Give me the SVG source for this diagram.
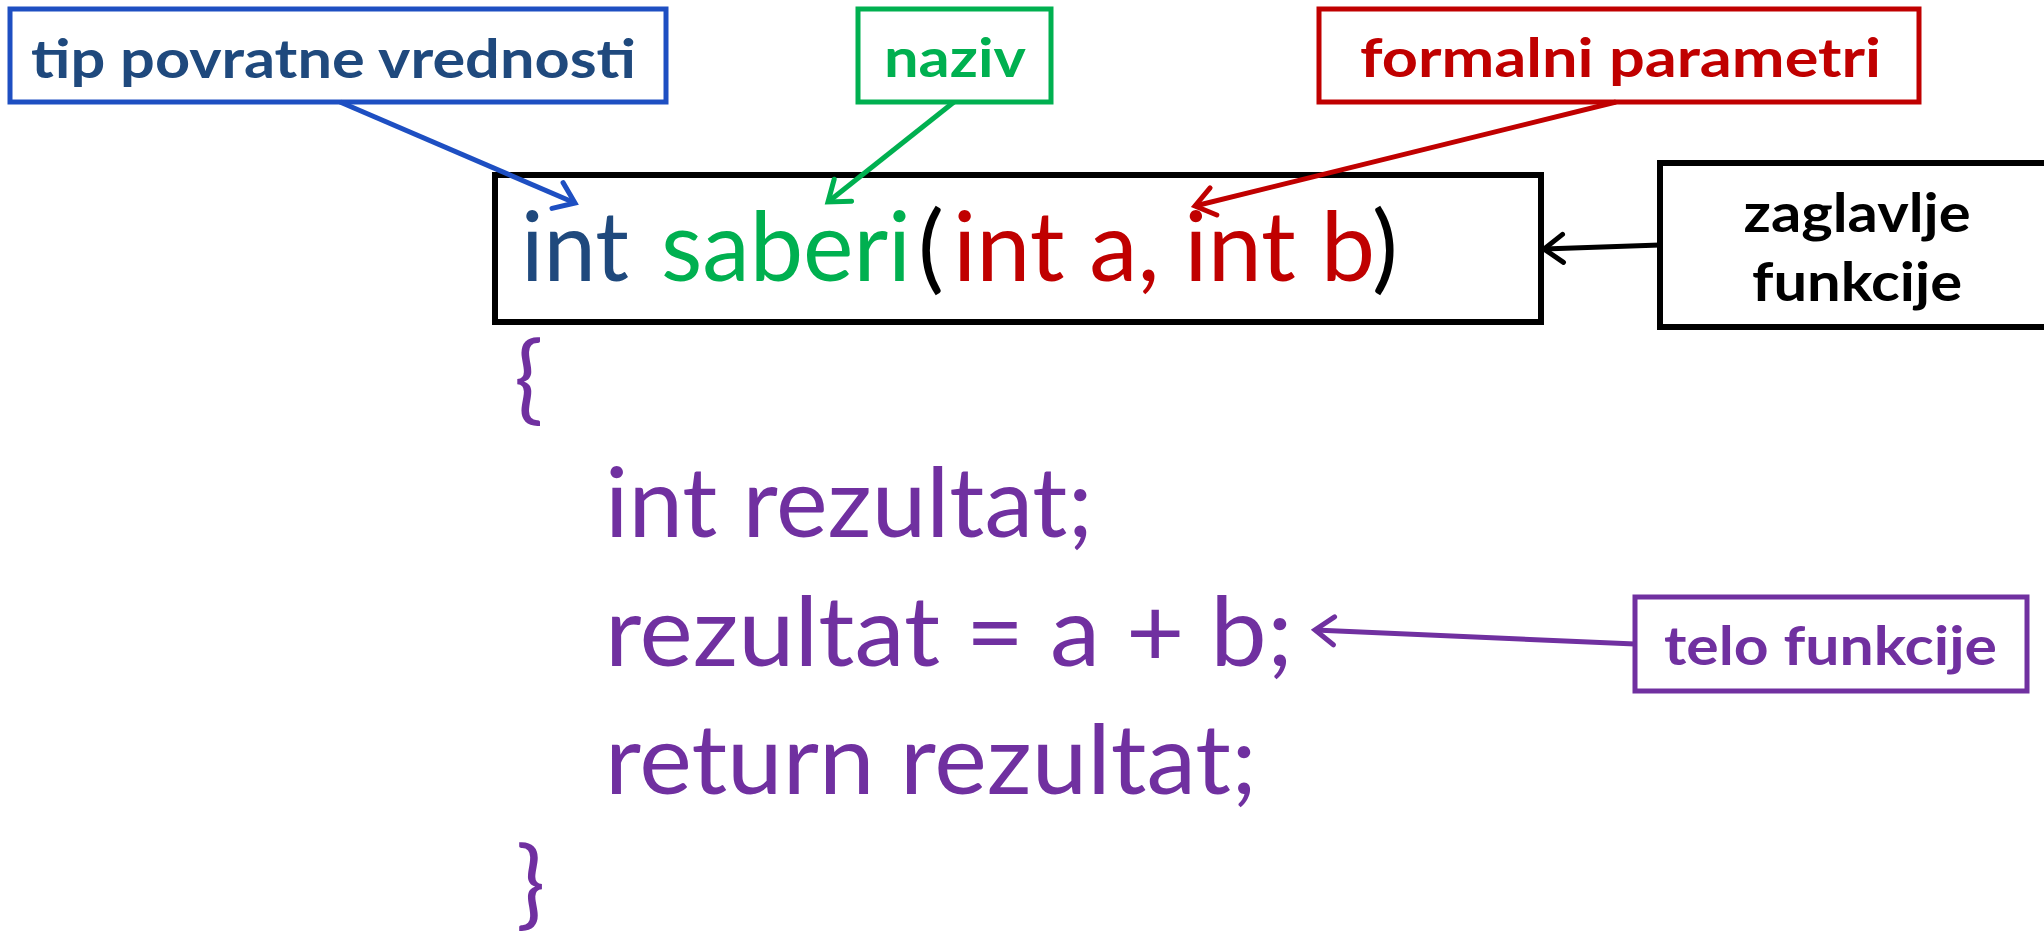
<svg xmlns="http://www.w3.org/2000/svg" width="2044" height="941" viewBox="0 0 2044 941">
  <style>
    .lbl { font-family: Lato, "Open Sans", "Liberation Sans", sans-serif; font-weight: 700; font-size: 54px; }
    .code { font-family: Lato, "Open Sans", "Liberation Sans", sans-serif; font-weight: 400; font-size: 97px; }
    .box { fill: #FFFFFF; stroke-width: 5; }
    .conn { fill: none; stroke-width: 5; }
  </style>
  <defs>
    <marker id="arrBlue" markerUnits="userSpaceOnUse" markerWidth="32" markerHeight="34" refX="0" refY="0" viewBox="-24 -17 28 34" orient="auto">
      <path d="M-19,-14 L0,0 L-19,14" fill="none" stroke="#1E4FC2" stroke-width="5" stroke-linecap="round"/>
    </marker>
    <marker id="arrGreen" markerUnits="userSpaceOnUse" markerWidth="32" markerHeight="34" refX="0" refY="0" viewBox="-24 -17 28 34" orient="auto">
      <path d="M-19,-14 L0,0 L-19,14" fill="none" stroke="#00B050" stroke-width="5" stroke-linecap="round"/>
    </marker>
    <marker id="arrRed" markerUnits="userSpaceOnUse" markerWidth="32" markerHeight="34" refX="0" refY="0" viewBox="-24 -17 28 34" orient="auto">
      <path d="M-19,-14 L0,0 L-19,14" fill="none" stroke="#C00000" stroke-width="5" stroke-linecap="round"/>
    </marker>
    <marker id="arrBlack" markerUnits="userSpaceOnUse" markerWidth="32" markerHeight="34" refX="0" refY="0" viewBox="-24 -17 28 34" orient="auto">
      <path d="M-19,-14 L0,0 L-19,14" fill="none" stroke="#000000" stroke-width="5" stroke-linecap="round"/>
    </marker>
    <marker id="arrPurple" markerUnits="userSpaceOnUse" markerWidth="32" markerHeight="34" refX="0" refY="0" viewBox="-24 -17 28 34" orient="auto">
      <path d="M-19,-14 L0,0 L-19,14" fill="none" stroke="#7030A0" stroke-width="5" stroke-linecap="round"/>
    </marker>
  </defs>
  <rect x="0" y="0" width="2044" height="941" fill="#FFFFFF"/>

  <g id="header">
    <rect x="495" y="175" width="1046" height="147" fill="#FFFFFF" stroke="#000000" stroke-width="6"/>
    <text class="code" x="521" y="281" fill="#1F497D" textLength="108" lengthAdjust="spacingAndGlyphs">int</text>
    <text class="code" x="661" y="281" fill="#00B050" textLength="250" lengthAdjust="spacingAndGlyphs">saberi</text>
    <text class="code" x="918" y="281" fill="#000000" font-size="106">(</text>
    <text class="code" x="953" y="281" fill="#C00000" textLength="422" lengthAdjust="spacingAndGlyphs">int a, int b</text>
    <text class="code" x="1372" y="281" fill="#000000" font-size="106">)</text>
  </g>

  <g id="body">
    <text class="code" x="514" y="412" fill="#7030A0" font-size="114">{</text>
    <text class="code" x="605" y="537" fill="#7030A0" textLength="488" lengthAdjust="spacingAndGlyphs">int rezultat;</text>
    <text class="code" x="605" y="666" fill="#7030A0" textLength="688" lengthAdjust="spacingAndGlyphs">rezultat = a + b;</text>
    <text class="code" x="605" y="794" fill="#7030A0" textLength="652" lengthAdjust="spacingAndGlyphs">return rezultat;</text>
    <text class="code" x="516" y="917" fill="#7030A0" font-size="95">}</text>
  </g>

  <g id="tip-povratne-vrednosti">
    <rect class="box" x="10" y="9" width="656" height="93" stroke="#1E4FC2"/>
    <text class="lbl" x="31" y="78" fill="#1F497D" textLength="605" lengthAdjust="spacingAndGlyphs">tip povratne vrednosti</text>
  </g>

  <g id="naziv">
    <rect class="box" x="858" y="9" width="193" height="93" stroke="#00B050"/>
    <text class="lbl" x="884" y="77" fill="#00B050" textLength="142" lengthAdjust="spacingAndGlyphs">naziv</text>
  </g>

  <g id="formalni-parametri">
    <rect class="box" x="1319" y="9" width="600" height="93" stroke="#C00000"/>
    <text class="lbl" x="1360" y="77" fill="#C00000" textLength="521" lengthAdjust="spacingAndGlyphs">formalni parametri</text>
  </g>

  <g id="zaglavlje-funkcije">
    <rect x="1660" y="163" width="392" height="164" fill="#FFFFFF" stroke="#000000" stroke-width="6"/>
    <text class="lbl" x="1857" y="232" fill="#000000" text-anchor="middle" textLength="227" lengthAdjust="spacingAndGlyphs">zaglavlje</text>
    <text class="lbl" x="1857" y="301" fill="#000000" text-anchor="middle" textLength="210" lengthAdjust="spacingAndGlyphs">funkcije</text>
  </g>

  <g id="telo-funkcije">
    <rect class="box" x="1635" y="597" width="392" height="94" stroke="#7030A0"/>
    <text class="lbl" x="1664" y="665" fill="#7030A0" textLength="333" lengthAdjust="spacingAndGlyphs">telo funkcije</text>
  </g>

  <g id="connectors">
    <line class="conn" x1="340" y1="102" x2="575" y2="203" stroke="#1E4FC2" marker-end="url(#arrBlue)"/>
    <line class="conn" x1="954" y1="102" x2="828" y2="202" stroke="#00B050" marker-end="url(#arrGreen)"/>
    <line class="conn" x1="1616" y1="102" x2="1195" y2="206" stroke="#C00000" stroke-width="6" marker-end="url(#arrRed)"/>
    <line class="conn" x1="1660" y1="245" x2="1544" y2="249" stroke="#000000" marker-end="url(#arrBlack)"/>
    <line class="conn" x1="1635" y1="644" x2="1315" y2="630" stroke="#7030A0" marker-end="url(#arrPurple)"/>
  </g>
</svg>
